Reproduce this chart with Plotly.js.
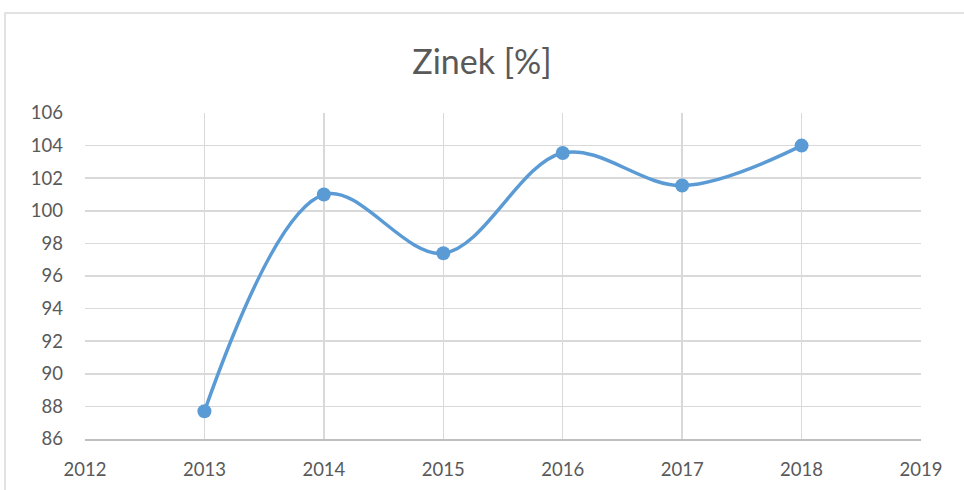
<!DOCTYPE html>
<html>
<head>
<meta charset="utf-8">
<script src="https://cdn.plot.ly/plotly-3.0.1.min.js"></script>
<style>html,body{margin:0;padding:0;background:#fff;}#chart{width:964px;height:490px;}</style>
</head>
<body>
<div id="chart"></div>
<script>
const years = [2013, 2014, 2015, 2016, 2017, 2018];
const zinek = [87.7, 101.0, 97.4, 103.55, 101.55, 104.0];
const xTicks = [2012, 2013, 2014, 2015, 2016, 2017, 2018, 2019];
const yTicks = [86, 88, 90, 92, 94, 96, 98, 100, 102, 104, 106];
const titleText = 'Zinek [%]';

const trace = {
  x: years, y: zinek, type: 'scatter', mode: 'lines+markers',
  line: {color: '#5b9bd5', width: 3.5, shape: 'spline', smoothing: 1},
  marker: {color: '#5b9bd5', size: 14},
  hoverinfo: 'x+y'
};
const font = {family: 'Lato, "Open Sans", sans-serif', color: '#595959', size: 18.5};
const layout = {
  width: 964, height: 490,
  margin: {l: 85, r: 43, t: 113, b: 51},
  paper_bgcolor: '#ffffff', plot_bgcolor: '#ffffff',
  showlegend: false,
  font: font,
  title: {text: titleText, x: 0.5, xanchor: 'center', y: 0.873, yanchor: 'middle',
          font: {family: 'Lato, "Open Sans", sans-serif', size: 34, color: '#595959'}},
  xaxis: {range: [2012, 2019], tickvals: xTicks, ticktext: xTicks.map(String),
          showgrid: true, gridcolor: '#d9d9d9', gridwidth: 1.5, zeroline: false,
          showline: true, linecolor: '#bfbfbf', linewidth: 1.5, ticks: '', ticklen: 0,
          ticklabelstandoff: 13, tickfont: font, fixedrange: true},
  yaxis: {range: [86, 106], tickvals: yTicks, ticktext: yTicks.map(String),
          showgrid: true, gridcolor: '#d9d9d9', gridwidth: 1.5, zeroline: false,
          showline: false, ticks: '', ticklabelstandoff: 21, tickfont: font, fixedrange: true},
  shapes: [{type: 'rect', xref: 'paper', yref: 'paper', layer: 'below',
            x0: (5 - 85) / 836, x1: (980 - 85) / 836,
            y0: (439 - 510) / 326, y1: 1 + 100 / 326,
            line: {color: '#d9d9d9', width: 1.5}, fillcolor: 'rgba(0,0,0,0)'}]
};
Plotly.newPlot('chart', [trace], layout, {displayModeBar: false, staticPlot: true});
</script>
</body>
</html>
